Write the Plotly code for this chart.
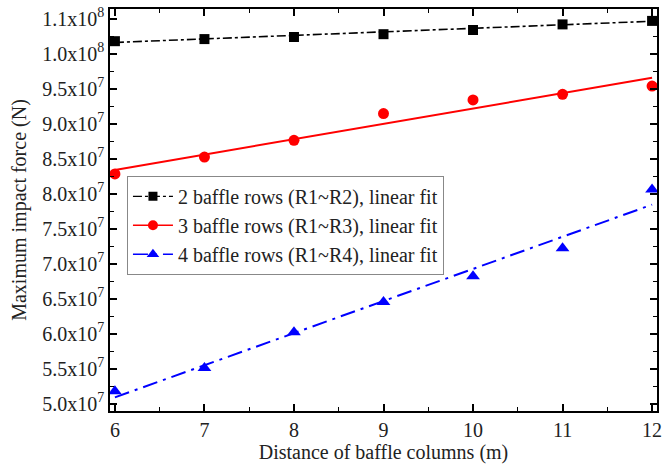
import plotly.graph_objects as go

distance = [6, 7, 8, 9, 10, 11, 12]
rows2 = [1.018e8, 1.021e8, 1.024e8, 1.028e8, 1.034e8, 1.042e8, 1.047e8]
rows3 = [8.283e7, 8.524e7, 8.764e7, 9.146e7, 9.34e7, 9.42e7, 9.538e7]
rows4 = [5.179e7, 5.51e7, 6.021e7, 6.451e7, 6.82e7, 7.22e7, 8.06e7]

fit_x = [6, 12]
fit2 = [1.0162e8, 1.0465e8]
fit3 = [8.34e7, 9.656e7]
fit4 = [5.09e7, 7.844e7]

names = ["2 baffle rows (R1~R2), linear fit",
         "3 baffle rows (R1~R3), linear fit",
         "4 baffle rows (R1~R4), linear fit"]

ytick_vals = [5.0e7, 5.5e7, 6.0e7, 6.5e7, 7.0e7, 7.5e7, 8.0e7, 8.5e7, 9.0e7, 9.5e7, 1.0e8, 1.05e8]
ytick_text = ["5.0x10<sup>7</sup>", "5.5x10<sup>7</sup>", "6.0x10<sup>7</sup>", "6.5x10<sup>7</sup>",
              "7.0x10<sup>7</sup>", "7.5x10<sup>7</sup>", "8.0x10<sup>7</sup>", "8.5x10<sup>7</sup>",
              "9.0x10<sup>7</sup>", "9.5x10<sup>7</sup>", "1.0x10<sup>8</sup>", "1.1x10<sup>8</sup>"]

FONT = "Liberation Serif"
FS = 20

styles = [
    dict(color="black", dash="dashdot", width=1.6, symbol="square", size=10),
    dict(color="red", dash="solid", width=2, symbol="circle", size=11),
    dict(color="blue", dash="longdashdot", width=2, symbol="triangle-up", size=12),
]
series = [rows2, rows3, rows4]
fits = [fit2, fit3, fit4]

fig = go.Figure()
for s, data, fit in zip(styles, series, fits):
    fig.add_trace(go.Scatter(x=fit_x, y=fit, mode="lines", showlegend=False,
                             line=dict(color=s["color"], dash=s["dash"], width=s["width"])))
    fig.add_trace(go.Scatter(x=distance, y=data, mode="markers", showlegend=False,
                             marker=dict(color=s["color"], symbol=s["symbol"], size=s["size"])))
for s, name in zip(styles, names):
    fig.add_trace(go.Scatter(x=[None], y=[None], mode="lines+markers", name=name,
                             line=dict(color=s["color"], dash=s["dash"], width=s["width"] * 0.75),
                             marker=dict(color=s["color"], symbol=s["symbol"], size=s["size"] - 1)))

axis_common = dict(showline=True, linecolor="black", linewidth=1.6, mirror="allticks",
                   ticks="inside", ticklen=7, tickwidth=1.5, tickcolor="black",
                   showgrid=False, zeroline=False,
                   tickfont=dict(family=FONT, size=FS, color="#222222"))

fig.update_xaxes(range=[5.945, 12.055], tickvals=distance,
                 minor=dict(ticks="inside", ticklen=4, tickwidth=1.2, tickcolor="black", dtick=0.5, tick0=6),
                 title=dict(text="Distance of baffle columns (m)", font=dict(family=FONT, size=FS, color="#222222"), standoff=0),
                 **axis_common)
fig.update_yaxes(range=[4.895e7, 1.064e8], tickvals=ytick_vals, ticktext=ytick_text,
                 minor=dict(ticks="inside", ticklen=4, tickwidth=1.2, tickcolor="black", dtick=2.5e6, tick0=5e7),
                 title=dict(text="Maximum impact force (N)", font=dict(family=FONT, size=FS, color="#222222"), standoff=10),
                 **axis_common)

fig.update_layout(
    width=672, height=465,
    margin=dict(l=110, r=15, t=5, b=54),
    plot_bgcolor="white", paper_bgcolor="white",
    legend=dict(x=0.031, y=0.585, xanchor="left", yanchor="top",
                bordercolor="#888888", borderwidth=1, bgcolor="white",
                font=dict(family=FONT, size=FS, color="#222222"),
                tracegroupgap=0, itemwidth=40),
)

fig.write_html("out.html")
